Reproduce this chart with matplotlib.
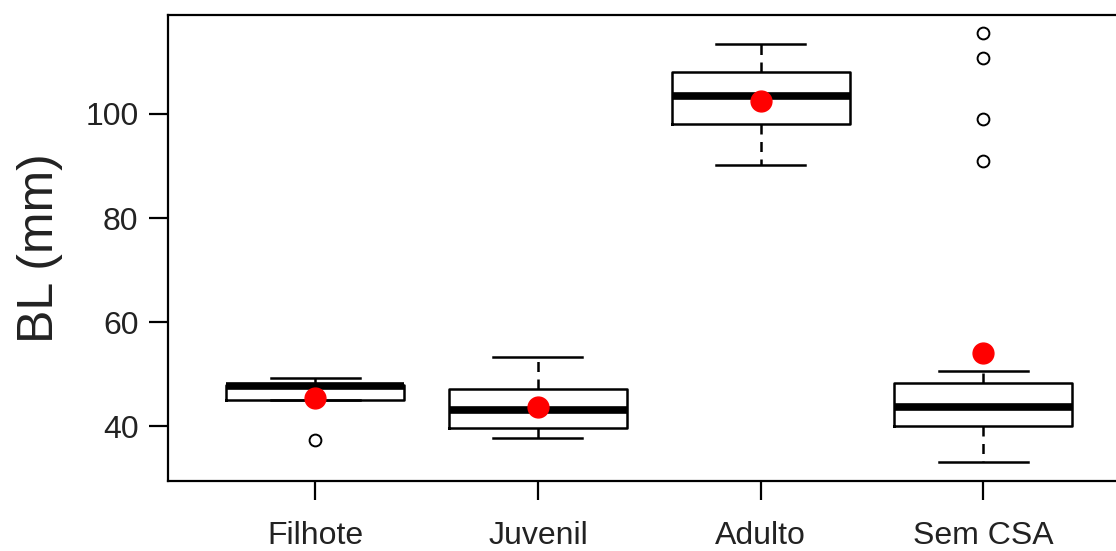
import matplotlib
matplotlib.use("Agg")
import matplotlib.pyplot as plt

plt.rcParams['font.family'] = ['Liberation Sans', 'DejaVu Sans']

categories = ["Filhote", "Juvenil", "Adulto", "Sem CSA"]
whislo = [45.0, 37.8, 90.2, 33.2]
q1 = [45.0, 39.6, 98.1, 40.0]
med = [47.7, 43.1, 103.4, 43.8]
q3 = [48.0, 47.2, 108.0, 48.4]
whishi = [49.2, 53.4, 113.4, 50.7]
outliers = [[37.3], [], [], [115.6, 110.7, 99.0, 91.0]]
means = [45.4, 43.8, 102.4, 54.1]
yticks = [40, 60, 80, 100]

fig = plt.figure(figsize=(11.16, 5.51), dpi=100)
ax = fig.add_axes([168.3 / 1116, 1 - 481 / 551, 962 / 1116, 466 / 551])

stats = []
for i, c in enumerate(categories):
    stats.append(dict(label=c, whislo=whislo[i], q1=q1[i], med=med[i],
                      q3=q3[i], whishi=whishi[i], fliers=outliers[i]))

pos = list(range(1, len(categories) + 1))
ax.bxp(stats, positions=pos, widths=0.8, showfliers=True,
       boxprops=dict(color='black', linewidth=1.8),
       medianprops=dict(color='black', linewidth=5.5, solid_capstyle='butt'),
       whiskerprops=dict(color='black', linewidth=1.8, linestyle=(0, (4, 3))),
       capprops=dict(color='black', linewidth=1.8),
       capwidths=0.4,
       flierprops=dict(marker='o', markerfacecolor='white', markeredgecolor='black',
                       markersize=8.5, markeredgewidth=1.4, linestyle='none'))

ax.plot(pos, means, 'o', color='#ff0000', markersize=15, zorder=5, linestyle='none')

ax.set_xlim(0.34, 4.66)
ax.set_ylim(29.5, 119.0)
ax.set_yticks(yticks)
ax.set_yticklabels([str(t) for t in yticks])
ax.set_xticks(pos)
ax.set_xticklabels(categories)
ax.tick_params(axis='both', length=13.5, width=1.6, labelsize=23, direction='out',
               labelcolor='#222222')
ax.tick_params(axis='x', pad=15)
ax.tick_params(axis='y', pad=8)
for s in ax.spines.values():
    s.set_linewidth(1.6)
ax.set_ylabel("BL (mm)", fontsize=36, labelpad=16, color='#222222')

fig.savefig("out.png", dpi=100)
